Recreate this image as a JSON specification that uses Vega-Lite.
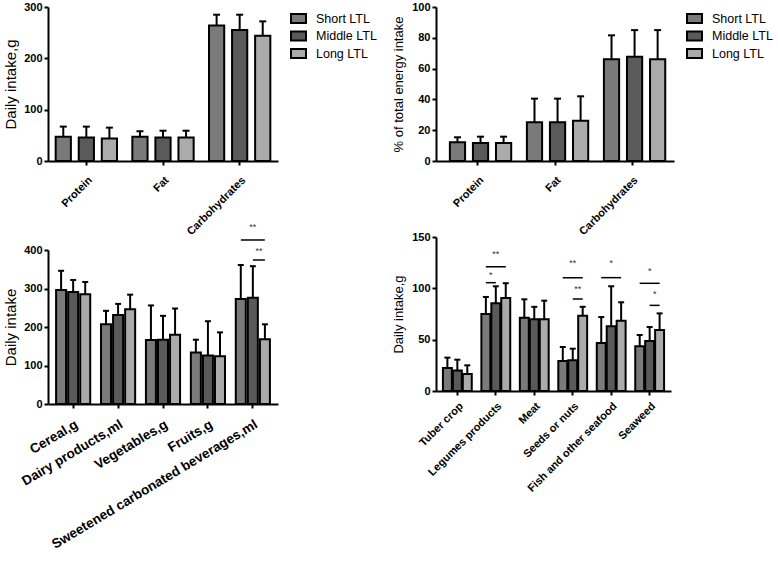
{
  "$schema": "https://vega.github.io/schema/vega-lite/v6.json",
  "padding": {"left": 3, "top": 1, "right": 0, "bottom": 0},
  "config": {
    "font": "Liberation Sans",
    "view": {"stroke": null},
    "axis": {"domainColor": "black", "domainWidth": 2, "tickColor": "black", "tickWidth": 2, "tickSize": 4, "labelColor": "black", "labelFont": "Liberation Sans", "labelFontWeight": "bold", "labelFontSize": 11, "labelPadding": 2, "labelOverlap": false, "labelLimit": 400, "titleFont": "Liberation Sans", "titleFontWeight": "normal", "titleFontSize": 13, "titleColor": "black", "grid": false, "titlePadding": 6},
    "axisX": {"labelAngle": -45, "labelFontSize": 11, "labelPadding": 9},
    "legend": {"offset": 9, "padding": 3, "labelFontSize": 12.5, "labelFont": "Liberation Sans", "labelColor": "black", "labelOffset": 9, "symbolType": "M-1,-0.6H1V0.6H-1Z", "symbolSize": 225, "symbolStrokeColor": "black", "symbolStrokeWidth": 2, "rowPadding": 0.5, "symbolOpacity": 1}
  },
  "datasets": {
    "macro_g": [
      {"nutrient": "Protein", "group": "Short LTL", "mean": 47, "upper": 67},
      {"nutrient": "Protein", "group": "Middle LTL", "mean": 46, "upper": 67},
      {"nutrient": "Protein", "group": "Long LTL", "mean": 44, "upper": 65},
      {"nutrient": "Fat", "group": "Short LTL", "mean": 47, "upper": 58},
      {"nutrient": "Fat", "group": "Middle LTL", "mean": 46, "upper": 59},
      {"nutrient": "Fat", "group": "Long LTL", "mean": 46, "upper": 59},
      {"nutrient": "Carbohydrates", "group": "Short LTL", "mean": 264, "upper": 285},
      {"nutrient": "Carbohydrates", "group": "Middle LTL", "mean": 255, "upper": 285},
      {"nutrient": "Carbohydrates", "group": "Long LTL", "mean": 244, "upper": 272}
    ],
    "macro_pct": [
      {"nutrient": "Protein", "group": "Short LTL", "mean": 12.1, "upper": 15.4},
      {"nutrient": "Protein", "group": "Middle LTL", "mean": 11.7, "upper": 15.8},
      {"nutrient": "Protein", "group": "Long LTL", "mean": 11.7, "upper": 15.8},
      {"nutrient": "Fat", "group": "Short LTL", "mean": 25.1, "upper": 40.5},
      {"nutrient": "Fat", "group": "Middle LTL", "mean": 25.1, "upper": 40.5},
      {"nutrient": "Fat", "group": "Long LTL", "mean": 26.2, "upper": 42},
      {"nutrient": "Carbohydrates", "group": "Short LTL", "mean": 66, "upper": 81.6},
      {"nutrient": "Carbohydrates", "group": "Middle LTL", "mean": 67.7, "upper": 85},
      {"nutrient": "Carbohydrates", "group": "Long LTL", "mean": 66, "upper": 85}
    ],
    "food1": [
      {"food": "Cereal,g", "group": "Short LTL", "mean": 296, "upper": 346},
      {"food": "Cereal,g", "group": "Middle LTL", "mean": 291, "upper": 322},
      {"food": "Cereal,g", "group": "Long LTL", "mean": 285, "upper": 317},
      {"food": "Dairy products,ml", "group": "Short LTL", "mean": 207, "upper": 242},
      {"food": "Dairy products,ml", "group": "Middle LTL", "mean": 231, "upper": 260},
      {"food": "Dairy products,ml", "group": "Long LTL", "mean": 246, "upper": 284},
      {"food": "Vegetables,g", "group": "Short LTL", "mean": 166, "upper": 256},
      {"food": "Vegetables,g", "group": "Middle LTL", "mean": 167, "upper": 229},
      {"food": "Vegetables,g", "group": "Long LTL", "mean": 180, "upper": 248},
      {"food": "Fruits,g", "group": "Short LTL", "mean": 134, "upper": 167},
      {"food": "Fruits,g", "group": "Middle LTL", "mean": 126, "upper": 215},
      {"food": "Fruits,g", "group": "Long LTL", "mean": 124, "upper": 186},
      {"food": "Sweetened carbonated beverages,ml", "group": "Short LTL", "mean": 273, "upper": 361},
      {"food": "Sweetened carbonated beverages,ml", "group": "Middle LTL", "mean": 276, "upper": 358},
      {"food": "Sweetened carbonated beverages,ml", "group": "Long LTL", "mean": 168, "upper": 207}
    ],
    "sig1": [
      {"food": "Sweetened carbonated beverages,ml", "comparison": "Short vs Long", "line": 426, "star": 460, "label": "**"},
      {"food": "Sweetened carbonated beverages,ml", "comparison": "Middle vs Long", "line": 374, "star": 397, "label": "**"}
    ],
    "food2": [
      {"food": "Tuber crop", "group": "Short LTL", "mean": 22.4, "upper": 32.5},
      {"food": "Tuber crop", "group": "Middle LTL", "mean": 20, "upper": 30.5},
      {"food": "Tuber crop", "group": "Long LTL", "mean": 16.6, "upper": 25},
      {"food": "Legumes products", "group": "Short LTL", "mean": 75, "upper": 91.6},
      {"food": "Legumes products", "group": "Middle LTL", "mean": 85.4, "upper": 102},
      {"food": "Legumes products", "group": "Long LTL", "mean": 90.6, "upper": 105},
      {"food": "Meat", "group": "Short LTL", "mean": 71.4, "upper": 89.3},
      {"food": "Meat", "group": "Middle LTL", "mean": 69.8, "upper": 82},
      {"food": "Meat", "group": "Long LTL", "mean": 69.8, "upper": 88},
      {"food": "Seeds or nuts", "group": "Short LTL", "mean": 29.2, "upper": 42.9},
      {"food": "Seeds or nuts", "group": "Middle LTL", "mean": 29.9, "upper": 41.2},
      {"food": "Seeds or nuts", "group": "Long LTL", "mean": 73.4, "upper": 82},
      {"food": "Fish and other seafood", "group": "Short LTL", "mean": 46.8, "upper": 72},
      {"food": "Fish and other seafood", "group": "Middle LTL", "mean": 63, "upper": 102},
      {"food": "Fish and other seafood", "group": "Long LTL", "mean": 68.5, "upper": 86.4},
      {"food": "Seaweed", "group": "Short LTL", "mean": 43.5, "upper": 54.5},
      {"food": "Seaweed", "group": "Middle LTL", "mean": 48.7, "upper": 62.3},
      {"food": "Seaweed", "group": "Long LTL", "mean": 59.4, "upper": 75.6}
    ],
    "sig2": [
      {"food": "Legumes products", "comparison": "Short vs Middle", "line": 105.5, "star": 112.7, "label": "*"},
      {"food": "Legumes products", "comparison": "Short vs Long", "line": 121, "star": 133.8, "label": "**"},
      {"food": "Seeds or nuts", "comparison": "Short vs Long", "line": 110.4, "star": 124.7, "label": "**"},
      {"food": "Seeds or nuts", "comparison": "Middle vs Long", "line": 89.6, "star": 99, "label": "**"},
      {"food": "Fish and other seafood", "comparison": "Short vs Long", "line": 110.4, "star": 124.7, "label": "*"},
      {"food": "Seaweed", "comparison": "Short vs Long", "line": 104.9, "star": 116.6, "label": "*"},
      {"food": "Seaweed", "comparison": "Middle vs Long", "line": 83.4, "star": 94, "label": "*"}
    ]
  },
  "hconcat": [
    {
      "spacing": -15,
      "vconcat": [
        {
          "width": 230, "height": 154,
          "data": {"name": "macro_g"},
          "encoding": {
            "x": {"field": "nutrient", "type": "nominal", "sort": null, "scale": {"domain": ["Protein", "Fat", "Carbohydrates"], "paddingInner": 0.2, "paddingOuter": 0.1}, "axis": {"title": null}},
            "xOffset": {"field": "group", "type": "nominal", "scale": {"domain": ["Short LTL", "Middle LTL", "Long LTL"], "paddingInner": 0.34, "paddingOuter": 0}}
          },
          "layer": [
            {"mark": {"type": "bar", "stroke": "black", "strokeWidth": 2},
             "encoding": {
               "y": {"field": "mean", "type": "quantitative", "scale": {"domain": [0, 300], "nice": false}, "axis": {"title": "Daily intake,g", "titleFontSize": 15, "titlePadding": 5, "values": [0, 100, 200, 300], "tickCount": 4}},
               "fill": {"field": "group", "type": "nominal", "scale": {"domain": ["Short LTL", "Middle LTL", "Long LTL"], "range": ["#7a7a7a", "#5a5a5a", "#ababab"]}, "legend": {"title": null}}
             }},
            {"mark": {"type": "rule", "strokeWidth": 2, "color": "black"},
             "encoding": {"y": {"field": "mean", "type": "quantitative"}, "y2": {"field": "upper"}}},
            {"mark": {"type": "tick", "orient": "horizontal", "size": 7, "thickness": 2, "color": "black", "opacity": 1},
             "encoding": {"y": {"field": "upper", "type": "quantitative"}}}
          ]
        },
        {
          "width": 230, "height": 154,
          "layer": [
            {
              "data": {"name": "food1"},
              "encoding": {
                "x": {"field": "food", "type": "nominal", "sort": null, "scale": {"domain": ["Cereal,g", "Dairy products,ml", "Vegetables,g", "Fruits,g", "Sweetened carbonated beverages,ml"], "paddingInner": 0.24, "paddingOuter": 0.18}, "axis": {"title": null, "labelAngle": -31, "labelFontSize": 13.5}},
                "xOffset": {"field": "group", "type": "nominal", "scale": {"domain": ["Short LTL", "Middle LTL", "Long LTL"], "paddingInner": 0.17, "paddingOuter": 0}}
              },
              "layer": [
                {"mark": {"type": "bar", "stroke": "black", "strokeWidth": 2},
                 "encoding": {
                   "y": {"field": "mean", "type": "quantitative", "scale": {"domain": [0, 400], "nice": false}, "axis": {"title": "Daily intake", "titleFontSize": 15, "titlePadding": 5, "values": [0, 100, 200, 300, 400], "tickCount": 5}},
                   "fill": {"field": "group", "type": "nominal", "scale": {"domain": ["Short LTL", "Middle LTL", "Long LTL"], "range": ["#7a7a7a", "#5a5a5a", "#ababab"]}, "legend": {"title": null}}
                 }},
                {"mark": {"type": "rule", "strokeWidth": 2, "color": "black"},
                 "encoding": {"y": {"field": "mean", "type": "quantitative"}, "y2": {"field": "upper"}}},
                {"mark": {"type": "tick", "orient": "horizontal", "size": 6, "thickness": 2, "color": "black", "opacity": 1},
                 "encoding": {"y": {"field": "upper", "type": "quantitative"}}}
              ]
            },
            {
              "data": {"name": "sig1"},
              "encoding": {
                "x": {"field": "food", "type": "nominal", "sort": null},
                "xOffset": {"field": "comparison", "type": "nominal", "scale": {"type": "point", "domain": ["Short LTL", "Short vs Middle", "Short vs Long", "Middle vs Long", "Long LTL"], "padding": 0.83}}
              },
              "layer": [
                {"transform": [{"filter": "datum.comparison == 'Short vs Long'"}],
                 "mark": {"type": "tick", "orient": "horizontal", "size": 24, "thickness": 1.5, "color": "black", "opacity": 1},
                 "encoding": {"y": {"field": "line", "type": "quantitative"}}},
                {"transform": [{"filter": "datum.comparison != 'Short vs Long'"}],
                 "mark": {"type": "tick", "orient": "horizontal", "size": 12, "thickness": 1.5, "color": "black", "opacity": 1},
                 "encoding": {"y": {"field": "line", "type": "quantitative"}}},
                {"mark": {"type": "text", "fontSize": 9, "color": "#333", "baseline": "middle"},
                 "encoding": {"y": {"field": "star", "type": "quantitative"}, "text": {"field": "label"}}}
              ]
            }
          ],
          "resolve": {"scale": {"xOffset": "independent"}}
        }
      ]
    },
    {
      "spacing": -9,
      "vconcat": [
        {
          "width": 238, "height": 154,
          "data": {"name": "macro_pct"},
          "encoding": {
            "x": {"field": "nutrient", "type": "nominal", "sort": null, "scale": {"domain": ["Protein", "Fat", "Carbohydrates"], "paddingInner": 0.27, "paddingOuter": 0.18}, "axis": {"title": null}},
            "xOffset": {"field": "group", "type": "nominal", "scale": {"domain": ["Short LTL", "Middle LTL", "Long LTL"], "paddingInner": 0.27, "paddingOuter": 0}}
          },
          "layer": [
            {"mark": {"type": "bar", "stroke": "black", "strokeWidth": 2},
             "encoding": {
               "y": {"field": "mean", "type": "quantitative", "scale": {"domain": [0, 100], "nice": false}, "axis": {"title": "% of total energy intake", "values": [0, 20, 40, 60, 80, 100], "tickCount": 6}},
               "fill": {"field": "group", "type": "nominal", "scale": {"domain": ["Short LTL", "Middle LTL", "Long LTL"], "range": ["#7a7a7a", "#5a5a5a", "#ababab"]}, "legend": {"title": null}}
             }},
            {"mark": {"type": "rule", "strokeWidth": 2, "color": "black"},
             "encoding": {"y": {"field": "mean", "type": "quantitative"}, "y2": {"field": "upper"}}},
            {"mark": {"type": "tick", "orient": "horizontal", "size": 7, "thickness": 2, "color": "black", "opacity": 1},
             "encoding": {"y": {"field": "upper", "type": "quantitative"}}}
          ]
        },
        {
          "width": 235, "height": 154,
          "layer": [
            {
              "data": {"name": "food2"},
              "encoding": {
                "x": {"field": "food", "type": "nominal", "sort": null, "scale": {"domain": ["Tuber crop", "Legumes products", "Meat", "Seeds or nuts", "Fish and other seafood", "Seaweed"], "paddingInner": 0.25, "paddingOuter": 0.18}, "axis": {"title": null, "labelFontSize": 11, "labelPadding": 5}},
                "xOffset": {"field": "group", "type": "nominal", "scale": {"domain": ["Short LTL", "Middle LTL", "Long LTL"], "paddingInner": 0.1, "paddingOuter": 0}}
              },
              "layer": [
                {"mark": {"type": "bar", "stroke": "black", "strokeWidth": 2},
                 "encoding": {
                   "y": {"field": "mean", "type": "quantitative", "scale": {"domain": [0, 150], "nice": false}, "axis": {"title": "Daily intake,g", "values": [0, 50, 100, 150], "tickCount": 4}},
                   "fill": {"field": "group", "type": "nominal", "scale": {"domain": ["Short LTL", "Middle LTL", "Long LTL"], "range": ["#7a7a7a", "#5a5a5a", "#ababab"]}, "legend": {"title": null}}
                 }},
                {"mark": {"type": "rule", "strokeWidth": 2, "color": "black"},
                 "encoding": {"y": {"field": "mean", "type": "quantitative"}, "y2": {"field": "upper"}}},
                {"mark": {"type": "tick", "orient": "horizontal", "size": 6, "thickness": 2, "color": "black", "opacity": 1},
                 "encoding": {"y": {"field": "upper", "type": "quantitative"}}}
              ]
            },
            {
              "data": {"name": "sig2"},
              "encoding": {
                "x": {"field": "food", "type": "nominal", "sort": null},
                "xOffset": {"field": "comparison", "type": "nominal", "scale": {"type": "point", "domain": ["Short LTL", "Short vs Middle", "Short vs Long", "Middle vs Long", "Long LTL"], "padding": 0.9}}
              },
              "layer": [
                {"transform": [{"filter": "datum.comparison == 'Short vs Long'"}],
                 "mark": {"type": "tick", "orient": "horizontal", "size": 20, "thickness": 1.5, "color": "black", "opacity": 1},
                 "encoding": {"y": {"field": "line", "type": "quantitative"}}},
                {"transform": [{"filter": "datum.comparison != 'Short vs Long'"}],
                 "mark": {"type": "tick", "orient": "horizontal", "size": 10, "thickness": 1.5, "color": "black", "opacity": 1},
                 "encoding": {"y": {"field": "line", "type": "quantitative"}}},
                {"mark": {"type": "text", "fontSize": 9, "color": "#333", "baseline": "middle"},
                 "encoding": {"y": {"field": "star", "type": "quantitative"}, "text": {"field": "label"}}}
              ]
            }
          ],
          "resolve": {"scale": {"xOffset": "independent"}}
        }
      ]
    }
  ],
  "spacing": 12,
  "resolve": {"scale": {"fill": "independent"}, "legend": {"fill": "independent"}}
}
